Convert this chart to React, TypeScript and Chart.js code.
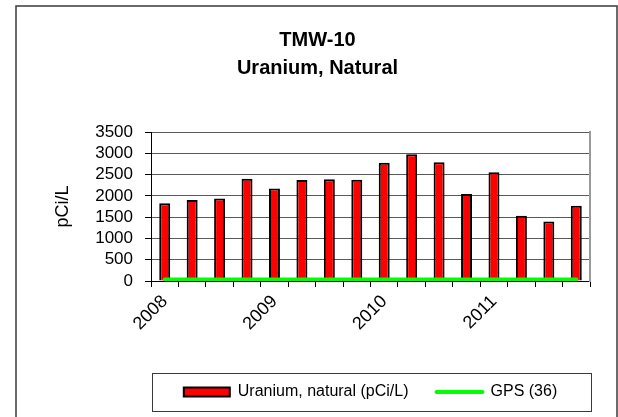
import React, { useEffect, useRef } from 'react';
import Chart from 'chart.js/auto';

const titleLines = ['TMW-10', 'Uranium, Natural'];
const categories = [
  '2008 Q1', '2008 Q2', '2008 Q3', '2008 Q4',
  '2009 Q1', '2009 Q2', '2009 Q3', '2009 Q4',
  '2010 Q1', '2010 Q2', '2010 Q3', '2010 Q4',
  '2011 Q1', '2011 Q2', '2011 Q3', '2011 Q4',
];
const xTickLabels = [
  '2008', '', '', '',
  '2009', '', '', '',
  '2010', '', '', '',
  '2011', '', '', '',
];
const uraniumValues = [1825, 1905, 1935, 2400, 2170, 2375, 2390, 2380, 2780, 2980, 2790, 2045, 2555, 1530, 1395, 1765];
const gpsValues = [36, 36, 36, 36, 36, 36, 36, 36, 36, 36, 36, 36, 36, 36, 36, 36];
const yMin = 0;
const yMax = 3500;
const yStep = 500;
const yTitle = 'pCi/L';
const seriesNames = ['Uranium, natural (pCi/L)', 'GPS (36)'];

const FONT = "'Liberation Sans', Arial, Helvetica, sans-serif";

const framePlugin = {
  id: 'frames',
  beforeDraw(chart: any) {
    const ctx = chart.ctx;
    ctx.save();
    ctx.fillStyle = '#ffffff';
    ctx.fillRect(0, 0, chart.width, chart.height);
    ctx.strokeStyle = '#3a3a3a';
    ctx.lineWidth = 1.5;
    ctx.strokeRect(16, 6, chart.width - 17, chart.height + 40);
    ctx.restore();
  },
  afterDraw(chart: any) {
    const legend = chart.legend;
    if (!legend || !legend.legendHitBoxes || !legend.legendHitBoxes.length) return;
    const hb = legend.legendHitBoxes[0];
    const cy = hb.top + hb.height / 2;
    const ctx = chart.ctx;
    ctx.save();
    ctx.strokeStyle = '#3a3a3a';
    ctx.lineWidth = 1;
    ctx.strokeRect(Math.round(legend.left) + 1.5, Math.round(cy - 19) + 0.5, Math.round(legend.width), 38);
    ctx.restore();
  },
};

export default function App() {
  const canvasRef = useRef<HTMLCanvasElement | null>(null);

  useEffect(() => {
    if (!canvasRef.current) return;
    Chart.defaults.font.family = FONT;
    const defaultGen = (Chart as any).defaults.plugins.legend.labels.generateLabels;
    const chart = new Chart(canvasRef.current, {
      type: 'bar',
      data: {
        labels: categories,
        datasets: [
          {
            type: 'bar',
            label: seriesNames[0],
            data: uraniumValues,
            backgroundColor: '#ff0000',
            borderColor: '#000000',
            borderWidth: 2,
            barPercentage: 0.4,
            categoryPercentage: 1,
            order: 1,
          } as any,
          {
            type: 'line',
            label: seriesNames[1],
            data: gpsValues,
            borderColor: '#00ff00',
            backgroundColor: '#00ff00',
            borderWidth: 4,
            borderCapStyle: 'round',
            pointRadius: 0,
            pointHoverRadius: 0,
            fill: false,
            order: 0,
          } as any,
        ],
      },
      options: {
        responsive: false,
        animation: false,
        devicePixelRatio: 1,
        layout: { padding: { left: 17, right: 0, top: 12, bottom: 7 } },
        plugins: {
          title: {
            display: true,
            text: titleLines,
            color: '#000000',
            font: { size: 20, weight: 'bold', family: FONT, lineHeight: 28 / 20 },
            padding: { top: 14, bottom: 50 },
          },
          legend: {
            display: true,
            position: 'bottom',
            fullSize: false,
            labels: {
              color: '#000000',
              font: { size: 16, family: FONT },
              usePointStyle: true,
              pointStyleWidth: 46,
              boxHeight: 9,
              padding: 28,
              sort: (a: any, b: any) => a.datasetIndex - b.datasetIndex,
              generateLabels: (ch: any) => {
                const items = defaultGen(ch);
                items.forEach((it: any) => {
                  if (it.datasetIndex === 0) {
                    it.pointStyle = 'rect';
                    it.fillStyle = '#ff0000';
                    it.strokeStyle = '#000000';
                    it.lineWidth = 2;
                  } else {
                    it.pointStyle = 'line';
                    it.strokeStyle = '#00ff00';
                    it.lineWidth = 4;
                    it.lineCap = 'round';
                  }
                });
                return items;
              },
            },
          },
          tooltip: { enabled: false },
        },
        scales: {
          x: {
            offset: true,
            grid: {
              offset: true,
              drawOnChartArea: false,
              drawTicks: true,
              tickLength: 6,
              color: '#000000',
              tickColor: '#000000',
            },
            border: { color: '#000000', width: 1 },
            ticks: {
              autoSkip: false,
              minRotation: 45,
              maxRotation: 45,
              padding: 4,
              color: '#000000',
              font: { size: 18, family: FONT },
              callback: (_v: any, i: number) => xTickLabels[i],
            },
            afterFit: (s: any) => { s.height = 75; },
          },
          y: {
            min: yMin,
            max: yMax,
            grid: { color: '#5a5a5a', tickColor: '#000000', tickLength: 6, lineWidth: 1 },
            border: { color: '#000000', width: 1 },
            ticks: {
              stepSize: yStep,
              autoSkip: false,
              padding: 12,
              color: '#000000',
              font: { size: 17, family: FONT },
              callback: (v: any) => String(v),
            },
            title: {
              display: true,
              text: yTitle,
              color: '#000000',
              font: { size: 18, family: FONT },
              padding: { top: 35, bottom: 0 },
            },
            afterFit: (s: any) => { s.width = 134; },
          },
          yRight: {
            position: 'right',
            display: true,
            min: yMin,
            max: yMax,
            grid: { display: false, drawOnChartArea: false, drawTicks: false },
            border: { display: true, color: '#9a9a9a', width: 2 },
            ticks: { display: false },
            afterFit: (s: any) => { s.width = 28; },
          },
        },
      } as any,
      plugins: [framePlugin],
    });
    return () => chart.destroy();
  }, []);

  return (
    <div style={{ position: 'absolute', left: 0, top: 0, width: 618, height: 417, background: '#fff' }}>
      <canvas ref={canvasRef} width={618} height={417} />
    </div>
  );
}
